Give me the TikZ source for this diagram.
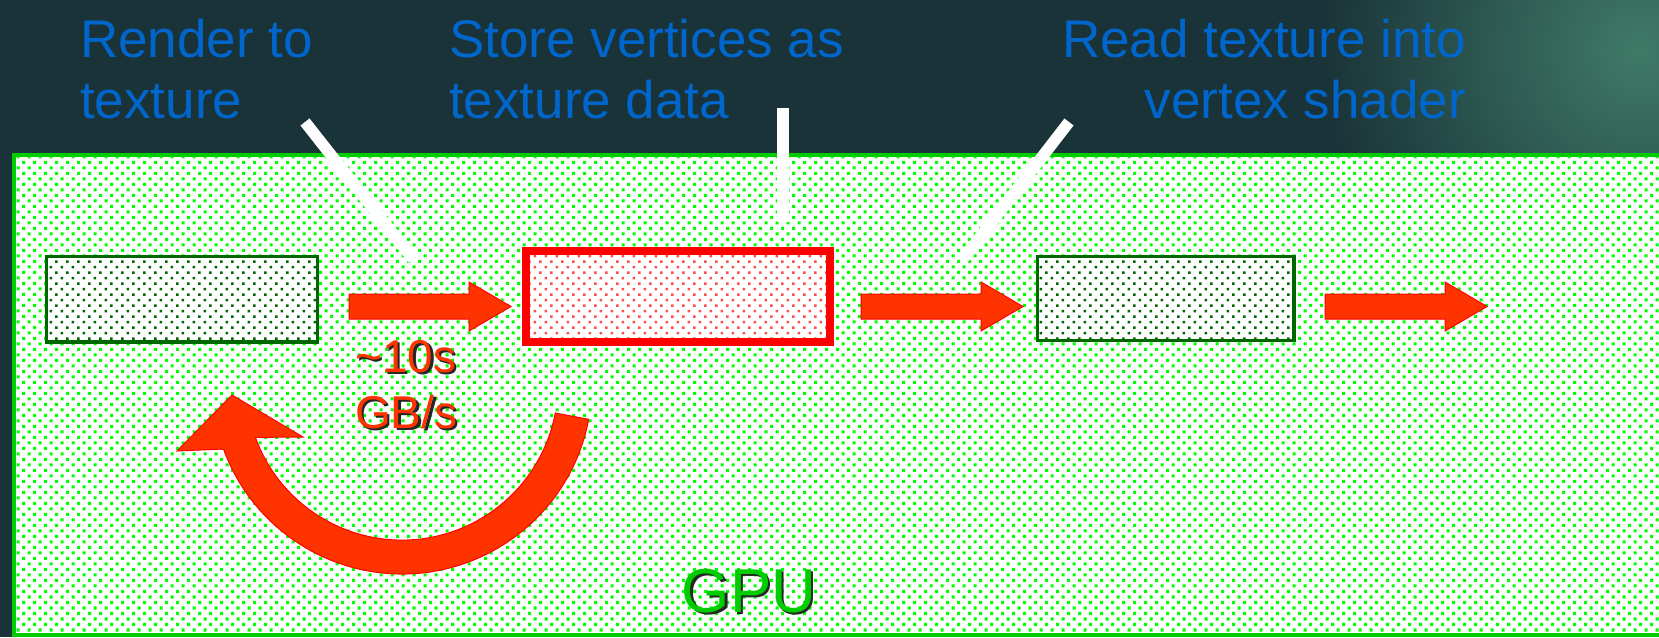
\documentclass[tikz,border=0pt]{standalone}
\usepackage{fontspec}
\setmainfont{Liberation Sans}
\usetikzlibrary{patterns}
\definecolor{bg}{HTML}{1A3338}
\definecolor{bglight}{HTML}{3F7A67}
\definecolor{textblue}{HTML}{0066CC}
\definecolor{gpugreen}{HTML}{00CC00}
\definecolor{dotgreen}{HTML}{00FF00}
\definecolor{darkgreen}{HTML}{006600}
\definecolor{arrowred}{HTML}{FF3300}
\definecolor{boxred}{HTML}{FF0000}
\definecolor{reddot}{HTML}{FF4D4D}
\pgfdeclarepatternformonly{gdots}{\pgfqpoint{-1pt}{-1pt}}{\pgfqpoint{12pt}{12pt}}{\pgfqpoint{11pt}{11pt}}{%
  \pgfpathrectangle{\pgfqpoint{0pt}{0pt}}{\pgfqpoint{3.2pt}{3.2pt}}%
  \pgfpathrectangle{\pgfqpoint{5.5pt}{5.5pt}}{\pgfqpoint{3.2pt}{3.2pt}}%
  \pgfusepath{fill}}
\pgfdeclarepatternformonly{sdots}{\pgfqpoint{-1pt}{-1pt}}{\pgfqpoint{12pt}{12pt}}{\pgfqpoint{11pt}{11pt}}{%
  \pgfpathrectangle{\pgfqpoint{0pt}{0pt}}{\pgfqpoint{2.5pt}{2.5pt}}%
  \pgfpathrectangle{\pgfqpoint{5.5pt}{5.5pt}}{\pgfqpoint{2.5pt}{2.5pt}}%
  \pgfusepath{fill}}
\tikzset{
  lbl/.style={text=textblue, font=\fontsize{53}{61}\selectfont, inner sep=0pt},
  redlbl/.style={font=\fontsize{46}{56}\selectfont, inner sep=0pt, align=left, anchor=base west},
  gpulbl/.style={font=\fontsize{62}{70}\selectfont, inner sep=0pt, anchor=base},
  greenbox/.style={draw=darkgreen, line width=3.5, pattern=sdots, pattern color=darkgreen,
    preaction={fill=white}, inner sep=0pt},
  redbox/.style={draw=boxred, line width=8, pattern=sdots, pattern color=reddot,
    preaction={fill=white}, inner sep=0pt},
  pointer/.style={draw=white, line width=11.5},
  barrow/.pic={\filldraw[draw=boxred, line width=1, fill=arrowred]
    (0,-12.5) -- (120,-12.5) -- (120,-24.5) -- (162,0) -- (120,24.5) -- (120,12.5) -- (0,12.5) -- cycle;}
}
\begin{document}
\begin{tikzpicture}[x=1pt,y=-1pt]
\useasboundingbox (0,0) rectangle (1659,637);
\clip (0,0) rectangle (1659,637);
% background
\fill[bg] (0,0) rectangle (1659,637);
\shade[inner color=bglight, outer color=bg] (1640,50) circle[radius=320];
% GPU area
\path[draw=gpugreen, line width=4, pattern=gdots, pattern color=dotgreen, preaction={fill=white}]
  (14,155) rectangle (1690,635);
% boxes
\node[greenbox, minimum width=271, minimum height=85.5] (b1) at (182,299.25) {};
\node[redbox, minimum width=304, minimum height=91] (b2) at (678,296.5) {};
\node[greenbox, minimum width=256.5, minimum height=84] (b3) at (1165.75,298.5) {};
% block arrows
\pic (a1) at (349,306.5) {barrow};
\pic (a2) at (861,306.5) {barrow};
\pic (a3) at (1325,306.5) {barrow};
% curved arrow
\filldraw[draw=boxred, line width=1, fill=arrowred]
  (588.7,419.3) arc[start angle=10.7, end angle=160, radius=190]
  -- (177,451) -- (232,395) -- (303,437) -- (255.4,437.4)
  arc[start angle=160, end angle=10.7, radius=156] -- cycle;
% labels (base = baseline of last line)
\node[lbl, anchor=base west, align=left] (l1) at (80,118) {Render to\\texture};
\node[lbl, anchor=base west, align=left] (l2) at (449,118) {Store vertices as\\texture data};
\node[lbl, anchor=base east, align=right] (l3) at (1466,118) {Read texture into\\vertex shader};
% pointers
\coordinate (p1s) at (305,122);
\coordinate (p1e) at (413,259);
\coordinate (p2s) at (783,108);
\coordinate (p2e) at (783,222);
\coordinate (p3s) at (1069,122);
\coordinate (p3e) at (963,259);
\draw[pointer] (p1s) -- (p1e);
\draw[pointer] (p2s) -- (p2e);
\draw[pointer] (p3s) -- (p3e);
% bandwidth label
\node[redlbl, text=black!85] (bws) at (357.5,430.5) {\textasciitilde10s\\GB/s};
\node[redlbl, text=arrowred] (bw) at (355,428) {\textasciitilde10s\\GB/s};
% GPU label
\node[gpulbl, text=black!85] (gpus) at (751.5,614.5) {GPU};
\node[gpulbl, text=gpugreen] (gpu) at (749,612) {GPU};
\end{tikzpicture}
\end{document}
